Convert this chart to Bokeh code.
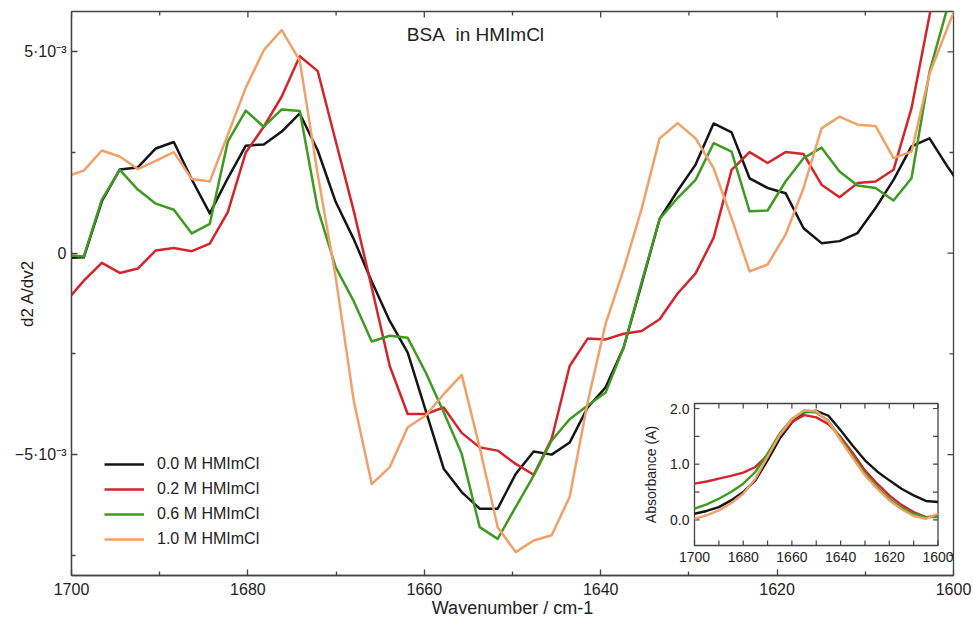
import math
from bokeh.plotting import figure
from bokeh.models import (Range1d, FixedTicker, CustomJSTickFormatter,
                          Legend, LegendItem, Label)
from bokeh.core.properties import value
from bokeh.embed import file_html
from bokeh.resources import INLINE

FONT = "Liberation Sans"
TXT = "#222222"
FRAME = "#444444"

# ---------------- data: main panel (second derivative, units of 1e-3) ----------------
wavenumber = [1700.64, 1698.60, 1696.56, 1694.52, 1692.48, 1690.44, 1688.40, 1686.36, 1684.32,
              1682.28, 1680.24, 1678.20, 1676.16, 1674.12, 1672.08, 1670.04, 1668.00, 1665.96,
              1663.92, 1661.88, 1659.84, 1657.80, 1655.76, 1653.72, 1651.68, 1649.64, 1647.60,
              1645.56, 1643.52, 1641.48, 1639.44, 1637.40, 1635.36, 1633.32, 1631.28, 1629.24,
              1627.20, 1625.16, 1623.12, 1621.08, 1619.04, 1617.00, 1614.96, 1612.92, 1610.88,
              1608.84, 1606.80, 1604.76, 1602.72, 1600.68, 1598.64]

d2_00M = [-0.12, -0.10, 1.29, 2.08, 2.13, 2.60, 2.76, 1.83, 0.99, 1.86, 2.67, 2.70, 3.02, 3.47,
          2.55, 1.27, 0.35, -0.70, -1.68, -2.47, -3.91, -5.35, -5.93, -6.34, -6.34, -5.48, -4.92,
          -5.00, -4.70, -3.83, -3.33, -2.34, -0.76, 0.85, 1.55, 2.20, 3.22, 3.00, 1.86, 1.62,
          1.49, 0.62, 0.25, 0.30, 0.50, 1.12, 1.82, 2.65, 2.85, 2.15, 1.50]
d2_02M = [-1.20, -0.68, -0.24, -0.49, -0.38, 0.07, 0.13, 0.05, 0.24, 1.02, 2.50, 3.14, 3.89, 4.89,
          4.52, 2.78, 1.05, -0.85, -2.80, -3.99, -3.99, -3.83, -4.46, -4.82, -4.90, -5.23, -5.50,
          -4.61, -2.80, -2.12, -2.14, -2.00, -1.93, -1.64, -1.00, -0.50, 0.38, 2.07, 2.51, 2.24,
          2.51, 2.46, 1.70, 1.39, 1.74, 1.78, 2.07, 3.60, 5.90, 8.20, 10.50]
d2_06M = [-0.05, -0.08, 1.33, 2.07, 1.58, 1.23, 1.08, 0.49, 0.73, 2.77, 3.54, 3.14, 3.57, 3.53,
          1.10, -0.35, -1.19, -2.19, -2.05, -2.10, -2.96, -3.95, -4.98, -6.80, -7.09, -6.30, -5.52,
          -4.65, -4.12, -3.78, -3.46, -2.34, -0.72, 0.85, 1.37, 1.82, 2.73, 2.52, 1.04, 1.06,
          1.78, 2.36, 2.62, 2.03, 1.68, 1.62, 1.31, 1.86, 4.50, 6.10, 7.50]
d2_10M = [1.90, 2.05, 2.55, 2.40, 2.09, 2.29, 2.51, 1.84, 1.78, 2.94, 4.11, 5.04, 5.54, 4.78,
          1.95, -0.60, -3.66, -5.73, -5.31, -4.32, -4.03, -3.50, -3.02, -4.82, -6.80, -7.42, -7.13,
          -7.00, -6.05, -3.70, -1.75, -0.40, 1.10, 2.85, 3.23, 2.85, 2.11, 0.87, -0.45, -0.28,
          0.46, 1.62, 3.10, 3.39, 3.19, 3.16, 2.36, 2.52, 4.45, 5.60, 6.70]
Y_UNIT = 1e-3

series_labels = ["0.0 M HMImCl", "0.2 M HMImCl", "0.6 M HMImCl", "1.0 M HMImCl"]
series_colors = ["#151515", "#d3252b", "#3f9a22", "#f0a068"]

x_major = [1700, 1680, 1660, 1640, 1620, 1600]
x_minor = [1690, 1670, 1650, 1630, 1610]
y_major = [-5e-3, 0.0, 5e-3]
y_minor = [-7.5e-3, -2.5e-3, 2.5e-3]
X_RANGE = (1700, 1600)
Y_RANGE = (-8e-3, 6e-3)

# ---------------- data: inset (absorbance) ----------------
inset_wn = [1700, 1695, 1690, 1685, 1680, 1675, 1670, 1665, 1660, 1655, 1650,
            1645, 1640, 1635, 1630, 1625, 1620, 1615, 1610, 1605, 1600]
abs_00M = [0.11, 0.16, 0.23, 0.35, 0.50, 0.71, 1.07, 1.46, 1.75, 1.93, 1.96,
           1.87, 1.61, 1.33, 1.07, 0.87, 0.71, 0.56, 0.44, 0.34, 0.32]
abs_02M = [0.65, 0.69, 0.74, 0.79, 0.85, 0.95, 1.16, 1.52, 1.76, 1.88, 1.84,
           1.72, 1.49, 1.20, 0.89, 0.65, 0.44, 0.27, 0.14, 0.05, 0.07]
abs_06M = [0.20, 0.28, 0.38, 0.50, 0.65, 0.86, 1.19, 1.55, 1.81, 1.94, 1.93,
           1.78, 1.46, 1.15, 0.83, 0.59, 0.38, 0.22, 0.11, 0.05, 0.05]
abs_10M = [0.02, 0.08, 0.17, 0.30, 0.47, 0.74, 1.13, 1.52, 1.81, 1.97, 1.95,
           1.77, 1.43, 1.11, 0.80, 0.56, 0.35, 0.19, 0.07, 0.02, 0.11]
inset_x_ticks = [1700, 1690, 1680, 1670, 1660, 1650, 1640, 1630, 1620, 1610, 1600]
inset_x_labels = [1700, 1680, 1660, 1640, 1620, 1600]
inset_y_ticks = [0.0, 0.5, 1.0, 1.5, 2.0]
inset_y_labels = [0.0, 1.0, 2.0]
IN_X = (1700, 1600)
IN_Y = (-0.46, 2.09)

# ---------------- layout (figure pixels) ----------------
W, H = 972, 622
FR_L, FR_R, FR_T, FR_B = 71, 953, 11, 575
IN_L, IN_R, IN_T, IN_B = 694, 937.5, 403, 545

p = figure(width=W, height=H, output_backend="svg", toolbar_location=None,
           x_range=Range1d(*X_RANGE), y_range=Range1d(*Y_RANGE),
           min_border_left=FR_L, min_border_right=W - FR_R,
           min_border_top=FR_T, min_border_bottom=H - FR_B,
           background_fill_color="white", border_fill_color="white")
p.xgrid.visible = False
p.ygrid.visible = False
p.outline_line_color = FRAME
p.outline_line_width = 1.3

xt = FixedTicker(ticks=x_major, minor_ticks=x_minor)
yt = FixedTicker(ticks=y_major, minor_ticks=y_minor)
yfmt = CustomJSTickFormatter(code="""
const m = Math.round(tick * 1000);
if (m == 0) { return "0"; }
return (m < 0 ? "\u2212" : "") + Math.abs(m) + "\u00b710\u207b\u00b3";
""")


def style_axis(ax):
    ax.axis_line_color = FRAME
    ax.axis_line_width = 1.3
    ax.major_tick_in = 6
    ax.major_tick_out = 0
    ax.minor_tick_in = 4
    ax.minor_tick_out = 0
    ax.major_tick_line_color = FRAME
    ax.minor_tick_line_color = FRAME
    ax.major_tick_line_width = 1.3
    ax.minor_tick_line_width = 1.3
    ax.major_label_text_font = FONT
    ax.major_label_text_font_size = "16px"
    ax.major_label_text_color = TXT
    ax.axis_label_text_font = FONT
    ax.axis_label_text_font_style = "normal"
    ax.axis_label_text_color = TXT


bx = p.xaxis[0]
bx.ticker = xt
style_axis(bx)
bx.major_label_standoff = 7
bx.axis_label = "Wavenumber / cm-1"
bx.axis_label_text_font_size = "18px"
bx.axis_label_standoff = 0

ly = p.yaxis[0]
ly.ticker = yt
ly.formatter = yfmt
style_axis(ly)
ly.major_label_standoff = 5
ly.axis_label = "d2 A/dv2"
ly.axis_label_text_font_size = "17px"
ly.axis_label_standoff = -25

# mirror ticks on the top and right edges of the frame (no labels)
sxm = (X_RANGE[1] - X_RANGE[0]) / (FR_R - FR_L)
sym = (Y_RANGE[1] - Y_RANGE[0]) / (FR_B - FR_T)
for ticks, ln in ((x_major, 6), (x_minor, 4)):
    p.segment(x0=ticks, y0=[Y_RANGE[1]] * len(ticks), x1=ticks,
              y1=[Y_RANGE[1] - ln * sym] * len(ticks), line_color=FRAME, line_width=1.3)
for ticks, ln in ((y_major, 6), (y_minor, 4)):
    p.segment(x0=[X_RANGE[1]] * len(ticks), y0=ticks, x1=[X_RANGE[1] - ln * sxm] * len(ticks),
              y1=ticks, line_color=FRAME, line_width=1.3)

# ---------------- main curves ----------------
renderers = []
for ys, col in zip([d2_00M, d2_02M, d2_06M, d2_10M], series_colors):
    r = p.line(wavenumber, [v * Y_UNIT for v in ys], line_color=col, line_width=2.5,
               line_join="round")
    renderers.append(r)

legend = Legend(items=[LegendItem(label=lab, renderers=[r]) for lab, r in zip(series_labels, renderers)],
                location=(33, 26), glyph_width=40, glyph_height=20, spacing=5,
                label_standoff=13, padding=0, margin=0, border_line_alpha=0,
                background_fill_alpha=0, label_text_font=FONT,
                label_text_font_size="16px", label_text_color=TXT)
p.add_layout(legend)

p.add_layout(Label(x=1654.2, y=5.42e-3, text="BSA\u00a0 in HMImCl", text_align="center",
                   text_baseline="middle", text_font=FONT, text_font_size="19px",
                   text_color=TXT))

# ---------------- inset ----------------
sx = (IN_X[1] - IN_X[0]) / (IN_R - IN_L)
sy = (IN_Y[1] - IN_Y[0]) / (IN_B - IN_T)
p.extra_x_ranges = {"ix": Range1d(IN_X[0] - (IN_L - FR_L) * sx, IN_X[1] + (FR_R - IN_R) * sx)}
p.extra_y_ranges = {"iy": Range1d(IN_Y[0] - (FR_B - IN_B) * sy, IN_Y[1] + (IN_T - FR_T) * sy)}
kw = dict(x_range_name="ix", y_range_name="iy")

p.quad(left=[IN_X[0]], right=[IN_X[1]], bottom=[IN_Y[0]], top=[IN_Y[1]],
       fill_color="white", line_color=FRAME, line_width=1.3, **kw)

TICK = 5
n = len(inset_x_ticks)
p.segment(x0=inset_x_ticks, y0=[IN_Y[0]] * n, x1=inset_x_ticks, y1=[IN_Y[0] + TICK * sy] * n,
          line_color=FRAME, line_width=1.2, **kw)
p.segment(x0=inset_x_ticks, y0=[IN_Y[1]] * n, x1=inset_x_ticks, y1=[IN_Y[1] - TICK * sy] * n,
          line_color=FRAME, line_width=1.2, **kw)
m = len(inset_y_ticks)
p.segment(x0=[IN_X[0]] * m, y0=inset_y_ticks, x1=[IN_X[0] + TICK * sx] * m, y1=inset_y_ticks,
          line_color=FRAME, line_width=1.2, **kw)
p.segment(x0=[IN_X[1]] * m, y0=inset_y_ticks, x1=[IN_X[1] - TICK * sx] * m, y1=inset_y_ticks,
          line_color=FRAME, line_width=1.2, **kw)

p.text(x=inset_x_labels, y=[IN_Y[0]] * len(inset_x_labels),
       text=[str(t) for t in inset_x_labels], text_align="center", text_baseline="top",
       y_offset=6, text_font=value(FONT), text_font_size="14px", text_color=TXT, **kw)
p.text(x=[IN_X[0]] * len(inset_y_labels), y=inset_y_labels,
       text=["%.1f" % t for t in inset_y_labels], text_align="right", text_baseline="middle",
       x_offset=-5, text_font=value(FONT), text_font_size="14px", text_color=TXT, **kw)
p.add_layout(Label(x=IN_X[0], y=(IN_Y[0] + IN_Y[1]) / 2, x_offset=-44, text="Absorbance (A)",
                   angle=math.pi / 2, text_align="center", text_baseline="middle",
                   text_font=FONT, text_font_size="14px", text_color=TXT, **kw))

for ys, col in zip([abs_00M, abs_02M, abs_06M, abs_10M], series_colors):
    p.line(inset_wn, ys, line_color=col, line_width=2.4, line_join="round", **kw)

open("out.html", "w").write(file_html(p, INLINE))
